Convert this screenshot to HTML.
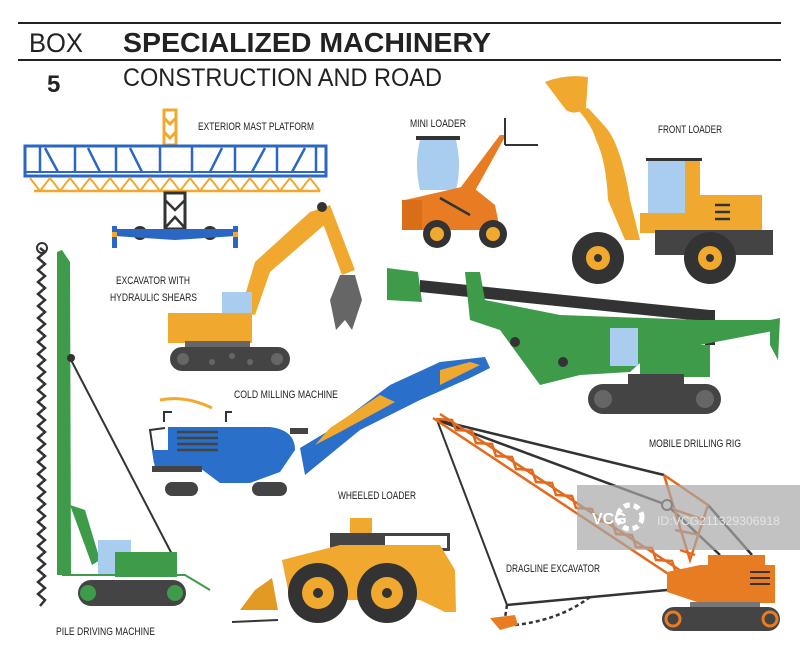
<!DOCTYPE html>
<html><head><meta charset="utf-8"><style>
html,body{margin:0;padding:0;background:#fff;}
svg{display:block;}
.l{font-family:"Liberation Sans",sans-serif;font-size:11px;fill:#222;}
</style></head><body>
<svg width="800" height="660" viewBox="0 0 800 660" xmlns="http://www.w3.org/2000/svg">
<rect width="800" height="660" fill="#fff"/>
<line x1="18" y1="23" x2="781" y2="23" stroke="#222" stroke-width="2"/>
<line x1="18" y1="60" x2="781" y2="60" stroke="#222" stroke-width="2"/>
<text x="29" y="52" font-family="Liberation Sans,sans-serif" font-size="27" fill="#222" textLength="54" lengthAdjust="spacingAndGlyphs">BOX</text>
<text x="123" y="52" font-family="Liberation Sans,sans-serif" font-weight="bold" font-size="28" fill="#222" textLength="368" lengthAdjust="spacingAndGlyphs">SPECIALIZED MACHINERY</text>
<text x="47" y="92" font-family="Liberation Sans,sans-serif" font-weight="bold" font-size="24" fill="#222">5</text>
<text x="123" y="86" font-family="Liberation Sans,sans-serif" font-size="25" fill="#222" textLength="319" lengthAdjust="spacingAndGlyphs">CONSTRUCTION AND ROAD</text>

<text class="l" x="198" y="130" textLength="116" lengthAdjust="spacingAndGlyphs">EXTERIOR MAST PLATFORM</text>
<text class="l" x="410" y="127" textLength="56" lengthAdjust="spacingAndGlyphs">MINI LOADER</text>
<text class="l" x="658" y="133" textLength="64" lengthAdjust="spacingAndGlyphs">FRONT LOADER</text>
<text class="l" x="116" y="284" textLength="74" lengthAdjust="spacingAndGlyphs">EXCAVATOR WITH</text>
<text class="l" x="110" y="301" textLength="87" lengthAdjust="spacingAndGlyphs">HYDRAULIC SHEARS</text>
<text class="l" x="234" y="398" textLength="104" lengthAdjust="spacingAndGlyphs">COLD MILLING MACHINE</text>
<text class="l" x="649" y="447" textLength="92" lengthAdjust="spacingAndGlyphs">MOBILE DRILLING RIG</text>
<text class="l" x="338" y="499" textLength="78" lengthAdjust="spacingAndGlyphs">WHEELED LOADER</text>
<text class="l" x="506" y="572" textLength="94" lengthAdjust="spacingAndGlyphs">DRAGLINE EXCAVATOR</text>
<text class="l" x="56" y="635" textLength="99" lengthAdjust="spacingAndGlyphs">PILE DRIVING MACHINE</text>

<!-- mast platform -->
<rect x="164" y="110" width="12" height="35" fill="none" stroke="#f0a92e" stroke-width="3"/>
<polyline points="164,118 170,124 176,118" fill="none" stroke="#f0a92e" stroke-width="3"/>
<polyline points="164,132 170,138 176,132" fill="none" stroke="#f0a92e" stroke-width="3"/>
<rect x="25" y="146" width="301" height="30" fill="none" stroke="#2a66c4" stroke-width="3"/>
<line x1="25" y1="172" x2="326" y2="172" stroke="#2a66c4" stroke-width="2"/>
<g stroke="#2a66c4" stroke-width="2.5">
<line x1="40" y1="146" x2="40" y2="172"/><line x1="75" y1="146" x2="75" y2="172"/><line x1="116" y1="146" x2="116" y2="172"/><line x1="160" y1="146" x2="160" y2="172"/><line x1="192" y1="146" x2="192" y2="172"/><line x1="235" y1="146" x2="235" y2="172"/><line x1="277" y1="146" x2="277" y2="172"/><line x1="316" y1="146" x2="316" y2="172"/>
<line x1="45" y1="148" x2="58" y2="172"/><line x1="88" y1="148" x2="100" y2="172"/><line x1="130" y1="148" x2="142" y2="172"/><line x1="222" y1="148" x2="210" y2="172"/><line x1="265" y1="148" x2="252" y2="172"/><line x1="305" y1="148" x2="292" y2="172"/>
</g>
<polyline points="30,178 40,191 50,178 60,191 70,178 80,191 90,178 100,191 110,178 120,191 130,178 140,191 150,178 160,191 170,178 180,191 190,178 200,191 210,178 220,191 230,178 240,191 250,178 260,191 270,178 280,191 290,178 300,191 310,178 320,191" fill="none" stroke="#f0a92e" stroke-width="2"/>
<line x1="34" y1="191" x2="320" y2="191" stroke="#f0a92e" stroke-width="2.5"/>
<rect x="165" y="193" width="20" height="36" fill="none" stroke="#333" stroke-width="3"/>
<polyline points="165,200 175,210 185,200" fill="none" stroke="#333" stroke-width="2.5"/>
<polyline points="165,228 175,217 185,228" fill="none" stroke="#333" stroke-width="2.5"/>
<circle cx="140" cy="233" r="7" fill="#333"/><circle cx="210" cy="233" r="7" fill="#333"/>
<path d="M114 229 L236 229 L236 236 L175 240 L114 236Z" fill="#2a66c4"/>
<rect x="112" y="226" width="5" height="22" fill="#2a66c4"/><rect x="233" y="226" width="5" height="22" fill="#2a66c4"/>
<rect x="112" y="232" width="5" height="5" fill="#f0a92e"/><rect x="233" y="232" width="5" height="5" fill="#f0a92e"/>

<!-- mini loader -->
<rect x="416" y="136" width="44" height="4" fill="#333"/>
<path d="M420 140 L456 140 Q462 165 456 190 L420 190 Q414 165 420 140Z" fill="#a9cdee"/>
<polygon points="455,195 500,135 506,135 470,200" fill="#e87c22"/>
<line x1="505" y1="118" x2="505" y2="145" stroke="#333" stroke-width="2"/>
<line x1="505" y1="145" x2="538" y2="145" stroke="#333" stroke-width="2"/>
<path d="M405 200 L440 192 L470 185 L495 205 L500 230 L402 230Z" fill="#e87c22"/>
<rect x="402" y="200" width="20" height="30" fill="#d96d18"/>
<line x1="440" y1="198" x2="470" y2="215" stroke="#333" stroke-width="2.5"/>
<circle cx="437" cy="234" r="14" fill="#333"/><circle cx="437" cy="234" r="7" fill="#f0a92e"/>
<circle cx="493" cy="234" r="14" fill="#333"/><circle cx="493" cy="234" r="7" fill="#f0a92e"/>

<!-- front loader -->
<path d="M545 82 Q565 74 588 77 L586 108 Q575 116 566 110Z" fill="#f0a92e"/>
<path d="M578 110 Q592 125 596 140 Q606 160 608 200 L625 240 L640 240 L630 200 Q622 150 608 130 Q595 115 588 108Z" fill="#f0a92e"/>
<rect x="646" y="158" width="56" height="3" fill="#333"/>
<rect x="648" y="161" width="38" height="52" fill="#a9cdee"/>
<rect x="685" y="161" width="15" height="52" fill="#f0a92e"/>
<rect x="700" y="195" width="62" height="35" fill="#f0a92e"/>
<g stroke="#333" stroke-width="2.5"><line x1="715" y1="205" x2="730" y2="205"/><line x1="715" y1="212" x2="730" y2="212"/><line x1="715" y1="219" x2="730" y2="219"/></g>
<rect x="640" y="213" width="62" height="20" fill="#f0a92e"/>
<rect x="655" y="230" width="118" height="25" fill="#444"/>
<circle cx="598" cy="258" r="26" fill="#333"/><circle cx="598" cy="258" r="12" fill="#f0a92e"/><circle cx="598" cy="258" r="4" fill="#333"/>
<circle cx="710" cy="258" r="26" fill="#333"/><circle cx="710" cy="258" r="12" fill="#f0a92e"/><circle cx="710" cy="258" r="4" fill="#333"/>

<!-- excavator shears -->
<polygon points="240,312 255,262 310,212 322,208 330,220 270,272 255,315" fill="#f0a92e"/>
<polygon points="318,210 330,205 355,270 342,275" fill="#f0a92e"/>
<circle cx="322" cy="207" r="5" fill="#333"/>
<path d="M340 275 L355 275 L362 300 L352 330 L345 320 L336 330 L330 300Z" fill="#666"/>
<rect x="222" y="292" width="30" height="22" fill="#a9cdee"/>
<rect x="168" y="313" width="84" height="30" fill="#f0a92e"/>
<rect x="185" y="341" width="65" height="6" fill="#666"/>
<rect x="170" y="347" width="120" height="24" rx="12" fill="#444"/>
<g fill="#666"><circle cx="183" cy="359" r="6"/><circle cx="277" cy="359" r="6"/><circle cx="212" cy="362" r="3"/><circle cx="232" cy="356" r="3"/><circle cx="250" cy="362" r="3"/></g>

<!-- drilling rig -->
<polygon points="387,268 418,272 422,302 387,300" fill="#3d9b4a"/>
<polygon points="420,280 710,310 712,322 420,292" fill="#333"/>
<polygon points="705,310 715,310 715,345 705,345" fill="#333"/>
<polygon points="465,272 480,272 485,300 560,315 700,320 770,320 778,330 700,345 660,345 630,372 580,375 540,385 500,330 470,320" fill="#3d9b4a"/>
<polygon points="770,320 780,318 778,360 770,345" fill="#3d9b4a"/>
<circle cx="515" cy="342" r="5" fill="#333"/><circle cx="563" cy="362" r="5" fill="#333"/>
<rect x="610" y="328" width="28" height="38" fill="#a9cdee"/>
<rect x="640" y="345" width="70" height="32" fill="#3d9b4a"/>
<rect x="628" y="374" width="56" height="10" fill="#444"/>
<rect x="588" y="384" width="133" height="30" rx="15" fill="#444"/>
<circle cx="603" cy="399" r="9" fill="#666"/><circle cx="705" cy="399" r="9" fill="#666"/>

<!-- pile driver -->
<polyline points="40,248 45,252 38,258 45,264 38,270 45,276 38,282 45,288 38,294 45,300 38,306 45,312 38,318 45,324 38,330 45,336 38,342 45,348 38,354 45,360 38,366 45,372 38,378 45,384 38,390 45,396 38,402 45,408 38,414 45,420 38,426 45,432 38,438 45,444 38,450 45,456 38,462 45,468 38,474 45,480 38,486 45,492 38,498 45,504 38,510 45,516 38,522 45,528 38,534 45,540 38,546 45,552 38,558 45,564 38,570 45,576 38,582 45,588 38,594 45,600 40,606" fill="none" stroke="#333" stroke-width="2.5"/>
<circle cx="42" cy="248" r="5" fill="none" stroke="#333" stroke-width="2"/>
<polygon points="57,252 62,250 70,262 71,575 57,575" fill="#3d9b4a"/>
<line x1="70" y1="358" x2="175" y2="560" stroke="#333" stroke-width="2"/>
<circle cx="71" cy="358" r="4" fill="#333"/>
<polygon points="70,505 85,510 100,560 92,565" fill="#3d9b4a"/>
<rect x="98" y="540" width="33" height="35" fill="#a9cdee"/>
<rect x="115" y="552" width="62" height="25" fill="#3d9b4a"/>
<polyline points="62,575 185,575 210,590" fill="none" stroke="#3d9b4a" stroke-width="2"/>
<rect x="78" y="580" width="108" height="26" rx="13" fill="#444"/>
<circle cx="88" cy="593" r="8" fill="#3d9b4a"/><circle cx="175" cy="593" r="8" fill="#3d9b4a"/>

<!-- cold milling -->
<path d="M160 400 Q185 395 212 408" fill="none" stroke="#f0a92e" stroke-width="3"/>
<polyline points="164,422 164,412 172,412" fill="none" stroke="#333" stroke-width="2"/>
<polyline points="226,422 226,412 232,412" fill="none" stroke="#333" stroke-width="2"/>
<polyline points="155,463 150,430 165,428" fill="none" stroke="#333" stroke-width="2"/>
<polygon points="300,448 330,430 390,385 440,362 485,357 490,368 470,378 420,400 360,430 305,475" fill="#2a6fc9"/>
<polygon points="315,445 330,428 380,395 395,402 340,432" fill="#f0a92e"/>
<polygon points="440,370 470,362 480,365 440,385" fill="#f0a92e"/>
<rect x="290" y="428" width="18" height="6" fill="#444"/>
<path d="M168 427 L270 427 Q295 430 295 450 L280 472 L250 483 L220 483 L200 468 L155 468 L152 450 L168 450Z" fill="#2a6fc9"/>
<rect x="152" y="466" width="50" height="6" fill="#444"/>
<g stroke="#444" stroke-width="2.5"><line x1="177" y1="432" x2="218" y2="432"/><line x1="177" y1="438" x2="218" y2="438"/><line x1="177" y1="444" x2="218" y2="444"/><line x1="177" y1="450" x2="218" y2="450"/></g>
<rect x="165" y="482" width="33" height="14" rx="7" fill="#444"/><rect x="252" y="482" width="35" height="14" rx="7" fill="#444"/>

<!-- wheeled loader -->
<rect x="350" y="518" width="22" height="15" fill="#f0a92e"/>
<rect x="330" y="533" width="120" height="18" fill="#444"/>
<rect x="385" y="536" width="62" height="12" fill="#fff"/>
<path d="M282 560 L340 545 L440 545 L455 570 L456 612 L445 612 L420 600 L290 600Z" fill="#f0a92e"/>
<path d="M240 610 L255 590 L272 578 L278 610Z" fill="#e39a25"/>
<line x1="232" y1="622" x2="278" y2="620" stroke="#333" stroke-width="2"/>
<circle cx="318" cy="593" r="30" fill="#333"/><circle cx="318" cy="593" r="16" fill="#f0a92e"/><circle cx="318" cy="593" r="5" fill="#333"/>
<circle cx="387" cy="593" r="30" fill="#333"/><circle cx="387" cy="593" r="16" fill="#f0a92e"/><circle cx="387" cy="593" r="5" fill="#333"/>

<!-- dragline -->
<line x1="437" y1="420" x2="507" y2="605" stroke="#333" stroke-width="2"/>
<line x1="437" y1="420" x2="664" y2="475" stroke="#333" stroke-width="2.5"/>
<line x1="437" y1="420" x2="667" y2="505" stroke="#333" stroke-width="2.5"/>
<line x1="667" y1="505" x2="720" y2="555" stroke="#333" stroke-width="2.5"/>
<line x1="708" y1="505" x2="752" y2="555" stroke="#333" stroke-width="2.5"/>
<line x1="507" y1="605" x2="667" y2="590" stroke="#333" stroke-width="2.5"/>
<path d="M507 605 L505 618 M515 625 Q560 620 590 597" fill="none" stroke="#333" stroke-width="2.5" stroke-dasharray="4 3"/>
<path d="M490 618 L515 615 L518 625 L500 630Z" fill="#e87c22"/>
<g stroke="#e36a1c" stroke-width="2.5" fill="none">
<line x1="433" y1="418" x2="685" y2="585"/><line x1="440" y1="414" x2="695" y2="580"/>
<polyline points="436,419 452,420 456,430 472,431 476,443 492,444 496,456 512,457 516,469 532,470 536,482 552,483 556,495 572,496 576,508 592,509 596,521 612,522 616,534 632,535 636,547 652,548 656,560 672,561 676,573 690,580"/>
<polyline points="664,475 708,505 690,560 664,475"/>
<line x1="675" y1="510" x2="705" y2="520"/><line x1="675" y1="530" x2="700" y2="535"/><line x1="680" y1="550" x2="695" y2="555"/>
</g>
<circle cx="667" cy="505" r="5" fill="#fff" stroke="#333" stroke-width="2"/>
<rect x="708" y="555" width="57" height="10" fill="#e87c22"/>
<polygon points="667,572 700,565 775,565 775,603 700,603 667,592" fill="#e87c22"/>
<g stroke="#333" stroke-width="2"><line x1="750" y1="572" x2="770" y2="572"/><line x1="750" y1="578" x2="770" y2="578"/><line x1="750" y1="584" x2="770" y2="584"/></g>
<rect x="690" y="602" width="70" height="6" fill="#777"/>
<rect x="662" y="607" width="118" height="24" rx="12" fill="#444"/>
<circle cx="673" cy="619" r="7" fill="none" stroke="#e87c22" stroke-width="3"/><circle cx="770" cy="619" r="7" fill="none" stroke="#e87c22" stroke-width="3"/>

<!-- watermark -->
<rect x="577" y="485" width="223" height="65" fill="#a8a8a8" opacity="0.7"/>
<text x="592" y="524" font-family="Liberation Sans,sans-serif" font-weight="bold" font-size="16" fill="#fff">VCG</text>
<circle cx="630" cy="517" r="12" fill="none" stroke="#fff" stroke-width="5" stroke-dasharray="6 4"/>
<text x="657" y="525" font-family="Liberation Sans,sans-serif" font-size="12" fill="#e5e5e5" textLength="123" lengthAdjust="spacingAndGlyphs">ID:VCG211329306918</text>
</svg>
</body></html>
